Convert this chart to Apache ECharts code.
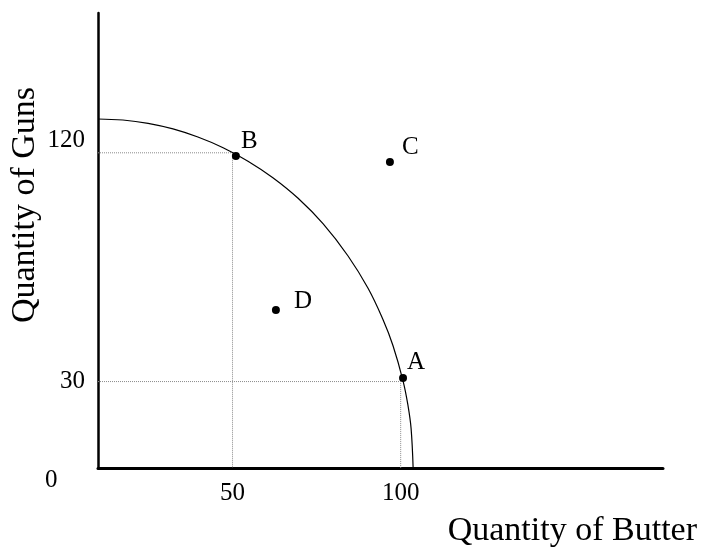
<!DOCTYPE html>
<html>
<head>
<meta charset="utf-8">
<script src="https://cdn.jsdelivr.net/npm/echarts@6/dist/echarts.min.js"></script>
<style>
  html, body { margin: 0; padding: 0; background: #fff; }
  #main { width: 702px; height: 548px; }
</style>
</head>
<body>
<div id="main"></div>
<script>
// axis ranges (schematic drawing, origin is not at 0)
var xMin = 10, xMax = 178;
var yMin = -4, yMax = 175;
var xTicks = [50, 100];
var yTicks = [30, 120];

// labelled points
var pointNames = ['A', 'B', 'C', 'D'];
var pointX = [100.7, 51.0, 96.8, 62.9];
var pointY = [31.4, 118.7, 116.4, 58.2];

// production possibilities frontier
var frontierX = [10, 17.4, 24.9, 32.3, 39.7, 47.2, 54.6, 62.0, 69.5, 76.9, 84.3, 90.3, 94.7, 97.7, 100.7, 102.2, 103.1, 103.7];
var frontierY = [133.3, 132.9, 131.6, 129.4, 126.2, 122.0, 116.7, 110.2, 102.1, 92.1, 79.5, 66.7, 54.5, 44.2, 30.3, 20.4, 11.5, -4];

// dotted guides: [x, y] of the corner
var guideX = [50, 100];
var guideY = [120, 30];

var serif = '"Liberation Serif", "DejaVu Serif", serif';

// label placement for each point
var labelStyle = {
  A: { distance: 0, offset: [0, -16] },
  B: { distance: 1, offset: [0, -15] },
  C: { distance: 8, offset: [0, -15] },
  D: { distance: 14, offset: [0, -8] }
};

var frontier = [];
for (var i = 0; i < frontierX.length; i++) {
  frontier.push([frontierX[i], frontierY[i]]);
}

var series = [];
for (var g = 0; g < guideX.length; g++) {
  series.push({
    type: 'line',
    silent: true,
    symbol: 'none',
    z: 1,
    lineStyle: { color: '#8a8a8a', width: 1, type: [1, 1] },
    data: [[xMin, guideY[g]], [guideX[g], guideY[g]], [guideX[g], yMin]]
  });
}
series.push({
  type: 'line',
  symbol: 'none',
  smooth: 0.4,
  z: 2,
  lineStyle: { color: '#000', width: 1.2 },
  data: frontier
});

var pts = [];
for (var p = 0; p < pointNames.length; p++) {
  var ls = labelStyle[pointNames[p]];
  pts.push({
    name: pointNames[p],
    value: [pointX[p], pointY[p]],
    label: { distance: ls.distance, offset: ls.offset }
  });
}
series.push({
  type: 'scatter',
  symbol: 'circle',
  symbolSize: 8,
  z: 3,
  itemStyle: { color: '#000', opacity: 1 },
  label: {
    show: true,
    position: 'right',
    formatter: '{b}',
    fontFamily: serif,
    fontSize: 25,
    color: '#000'
  },
  data: pts
});

var myChart = echarts.init(document.getElementById('main'));
myChart.setOption({
  animation: false,
  backgroundColor: '#fff',
  grid: { left: 98, right: 39, top: 13, bottom: 80 },
  xAxis: {
    type: 'value',
    min: xMin,
    max: xMax,
    axisLine: { show: true, onZero: false, lineStyle: { color: '#000', width: 3 } },
    axisTick: { show: false },
    splitLine: { show: false },
    axisLabel: {
      customValues: xTicks,
      margin: 13,
      fontFamily: serif,
      fontSize: 25,
      color: '#000'
    }
  },
  yAxis: {
    type: 'value',
    min: yMin,
    max: yMax,
    axisLine: { show: true, onZero: false, lineStyle: { color: '#000', width: 2.5 } },
    axisTick: { show: false },
    splitLine: { show: false },
    axisLabel: {
      customValues: yTicks,
      margin: 13,
      fontFamily: serif,
      fontSize: 25,
      color: '#000',
      // the upper label sits a little above its guide line
      formatter: function (v) {
        return v === 120 ? '{up|' + v + '}' : '{n|' + v + '}';
      },
      rich: {
        up: { fontFamily: serif, fontSize: 25, color: '#000', padding: [0, 0, 24, 0] },
        n: { fontFamily: serif, fontSize: 25, color: '#000' }
      }
    }
  },
  graphic: [
    {
      type: 'text',
      left: 45, top: 468,
      style: { text: '0', font: '25px ' + serif, fill: '#000' }
    },
    {
      type: 'text',
      right: 5, top: 514,
      style: { text: 'Quantity of Butter', font: '34px ' + serif, fill: '#000' }
    },
    {
      type: 'text',
      x: 25, y: 205,
      rotation: Math.PI / 2,
      style: {
        text: 'Quantity of Guns',
        font: '34px ' + serif,
        fill: '#000',
        align: 'center',
        verticalAlign: 'middle'
      }
    }
  ],
  series: series
});
</script>
</body>
</html>
